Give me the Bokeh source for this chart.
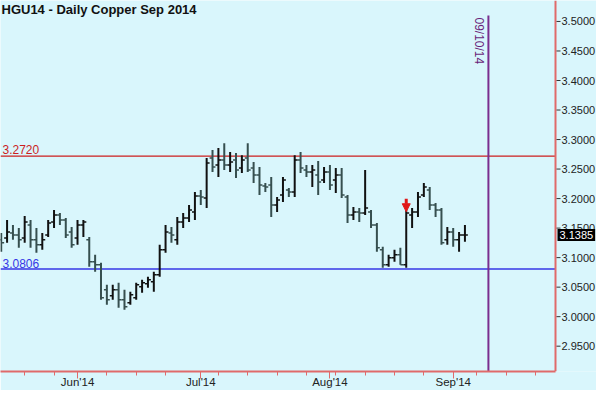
import math
import pandas as pd
from bokeh.plotting import figure
from bokeh.core.properties import value
from bokeh.models import (Range1d, FixedTicker, Label, Arrow, NormalHead, ColumnDataSource)
from bokeh.embed import file_html
from bokeh.resources import INLINE

# ---------------- data ----------------
START = "2014-05-13"
CAL_END = "2014-09-30"
HOLIDAYS = ["2014-05-26", "2014-07-04", "2014-09-01"]

OPEN = [3.1301, 3.1334, 3.1419, 3.1385, 3.1334, 3.1554, 3.1301, 3.1216, 3.1385, 3.1605,
        3.1723, 3.1639, 3.1436, 3.1334, 3.1554, 3.1301, 3.0929, 3.0878, 3.0456, 3.0355,
        3.0456, 3.0287, 3.0237, 3.0321, 3.0507, 3.0557, 3.0591, 3.0709, 3.1132, 3.1419,
        3.1301, 3.1605, 3.1672, 3.1774, 3.2044, 3.2010, 3.2686, 3.2568, 3.2652, 3.2568,
        3.2652, 3.2517, 3.2686, 3.2517, 3.2399, 3.2213, 3.2230, 3.1892, 3.2061, 3.2145,
        3.2111, 3.2652, 3.2483, 3.2449, 3.2399, 3.2314, 3.2449, 3.2314, 3.2399, 3.2027,
        3.1723, 3.1774, 3.1757, 3.1774, 3.1554, 3.1132, 3.0878, 3.0997, 3.1047, 3.0878,
        3.1723, 3.1774, 3.2061, 3.2145, 3.1892, 3.1807, 3.1301, 3.1436, 3.1301, 3.1385]
HIGH = [3.1419, 3.1639, 3.1554, 3.1503, 3.1706, 3.1639, 3.1503, 3.1419, 3.1639, 3.1807,
        3.1757, 3.1672, 3.1520, 3.1639, 3.1639, 3.1351, 3.1047, 3.0912, 3.0541, 3.0541,
        3.0574, 3.0456, 3.0422, 3.0574, 3.0625, 3.0676, 3.0760, 3.1216, 3.1554, 3.1520,
        3.1689, 3.1757, 3.1892, 3.2111, 3.2145, 3.2686, 3.2821, 3.2855, 3.2939, 3.2787,
        3.2770, 3.2736, 3.2939, 3.2618, 3.2534, 3.2264, 3.2365, 3.2027, 3.2365, 3.2179,
        3.2736, 3.2787, 3.2568, 3.2568, 3.2635, 3.2534, 3.2568, 3.2517, 3.2517, 3.2061,
        3.1858, 3.1841, 3.2483, 3.1807, 3.1588, 3.1183, 3.1047, 3.1132, 3.1166, 3.1807,
        3.1841, 3.2111, 3.2264, 3.2196, 3.1926, 3.1841, 3.1520, 3.1503, 3.1436, 3.1554]
LOW = [3.1098, 3.1250, 3.1301, 3.1166, 3.1250, 3.1166, 3.1081, 3.1132, 3.1351, 3.1503,
       3.1554, 3.1334, 3.1166, 3.1216, 3.1351, 3.0845, 3.0760, 3.0287, 3.0203, 3.0287,
       3.0152, 3.0118, 3.0203, 3.0287, 3.0405, 3.0490, 3.0422, 3.0676, 3.1081, 3.1250,
       3.1216, 3.1503, 3.1605, 3.1639, 3.1892, 3.1841, 3.2449, 3.2365, 3.2483, 3.2449,
       3.2348, 3.2432, 3.2449, 3.2264, 3.2061, 3.2111, 3.1689, 3.1774, 3.1942, 3.2027,
       3.2027, 3.2432, 3.2365, 3.2196, 3.2061, 3.2264, 3.2145, 3.2095, 3.2010, 3.1588,
       3.1639, 3.1605, 3.1723, 3.1503, 3.1098, 3.0828, 3.0845, 3.0929, 3.0878, 3.0828,
       3.1503, 3.1689, 3.2027, 3.1807, 3.1689, 3.1216, 3.1216, 3.1183, 3.1098, 3.1267]
CLOSE = [3.1250, 3.1436, 3.1385, 3.1301, 3.1605, 3.1301, 3.1216, 3.1301, 3.1588, 3.1723,
         3.1639, 3.1385, 3.1216, 3.1554, 3.1605, 3.0929, 3.0878, 3.0321, 3.0287, 3.0456,
         3.0287, 3.0169, 3.0372, 3.0541, 3.0574, 3.0625, 3.0709, 3.1132, 3.1436, 3.1385,
         3.1605, 3.1672, 3.1807, 3.2044, 3.2027, 3.2601, 3.2534, 3.2652, 3.2568, 3.2618,
         3.2483, 3.2652, 3.2483, 3.2399, 3.2230, 3.2196, 3.1892, 3.1976, 3.2314, 3.2111,
         3.2652, 3.2517, 3.2449, 3.2483, 3.2280, 3.2449, 3.2230, 3.2399, 3.2061, 3.1723,
         3.1774, 3.1757, 3.1841, 3.1554, 3.1166, 3.0878, 3.0997, 3.1047, 3.0878, 3.1757,
         3.1774, 3.2027, 3.2196, 3.1892, 3.1807, 3.1250, 3.1436, 3.1301, 3.1385, 3.1385]

MONTH_TICKS = ["2014-06-02", "2014-07-01", "2014-08-01", "2014-09-02"]
MONTH_LABELS = ["Jun'14", "Jul'14", "Aug'14", "Sep'14"]
WEEK_TICKS = ["2014-05-19", "2014-05-27", "2014-06-09", "2014-06-16", "2014-06-23",
              "2014-07-07", "2014-07-14", "2014-07-21", "2014-07-28", "2014-08-04",
              "2014-08-11", "2014-08-18", "2014-08-25", "2014-09-08", "2014-09-15",
              "2014-09-22"]
PRICE_TICKS = [2.95, 3.00, 3.05, 3.10, 3.15, 3.20, 3.25, 3.30, 3.35, 3.40, 3.45, 3.50]
PRICE_LABELS = ["2.9500", "3.0000", "3.0500", "3.1000", "3.1500", "3.2000",
                "3.2500", "3.3000", "3.3500", "3.4000", "3.4500", "3.5000"]

RESISTANCE = 3.2720
SUPPORT = 3.0806
MARK_DATE = "2014-09-10"
MARK_TEXT = "09/10/14"
SIGNAL_DATE = "2014-08-20"
TITLE = "HGU14 - Daily  Copper Sep 2014"

# ---------------- calendar ----------------
cal = [d for d in pd.bdate_range(START, CAL_END) if d.strftime("%Y-%m-%d") not in HOLIDAYS]
pos = {d.strftime("%Y-%m-%d"): i for i, d in enumerate(cal)}
xs = list(range(len(OPEN)))

# ---------------- styling / layout ----------------
BG = "#D9F6FC"
AXIS_C = "#E06A6A"
FONT = "Liberation Sans"
UP_C = "#111111"
DN_C = "#364F4F"
W, H = 596, 390
PX_DAY = 5.87          # px per trading day
PX_UNIT = 592.0        # px per price unit
FRAME_H = 372
AXIS_PX = 555          # price axis position from the left edge, px
X_START = -0.12
X_END = X_START + W / PX_DAY
X_AXIS = X_START + AXIS_PX / PX_DAY
Y_END = 3.5355
Y_START = Y_END - FRAME_H / PX_UNIT

p = figure(width=W, height=H, output_backend="svg", toolbar_location=None,
           x_range=Range1d(X_START, X_END), y_range=Range1d(Y_START, Y_END),
           y_axis_location=None, background_fill_color=BG, border_fill_color=BG,
           min_border_left=0, min_border_top=0, min_border_right=0,
           min_border_bottom=H - FRAME_H)
p.outline_line_color = None
p.xgrid.visible = False
p.ygrid.visible = False

colors = [UP_C if c >= o else DN_C for o, c in zip(OPEN, CLOSE)]
src = ColumnDataSource(dict(x=xs, xl=[x - 0.5 for x in xs], xr=[x + 0.5 for x in xs],
                            o=OPEN, h=HIGH, l=LOW, c=CLOSE, col=colors))

# reference lines
p.segment(x0=X_START, x1=X_AXIS, y0=RESISTANCE, y1=RESISTANCE, line_color="#CC1E1E", line_width=1.2)
p.segment(x0=X_START, x1=X_AXIS, y0=SUPPORT, y1=SUPPORT, line_color="#3636E6", line_width=1.5)

mx = pos[MARK_DATE]
p.segment(x0=mx, x1=mx, y0=Y_START, y1=Y_END - 15 / PX_UNIT, line_color="#7A2E8E", line_width=2)

# OHLC bars
p.segment(x0="x", x1="x", y0="l", y1="h", line_color="col", line_width=2, source=src)
p.segment(x0="xl", x1="x", y0="o", y1="o", line_color="col", line_width=1.5, source=src)
p.segment(x0="x", x1="xr", y0="c", y1="c", line_color="col", line_width=1.5, source=src)

# signal arrow
si = pos[SIGNAL_DATE]
p.add_layout(Arrow(end=NormalHead(size=8, fill_color="#E01818", line_color="#E01818"),
                   x_start=si, y_start=HIGH[si] + 0.019, x_end=si, y_end=HIGH[si] - 0.003,
                   line_color="#E01818", line_width=3))

# price scale on the right (drawn on the same scales)
p.segment(x0=X_AXIS, x1=X_AXIS, y0=Y_START, y1=Y_END, line_color=AXIS_C, line_width=2)
tsrc = ColumnDataSource(dict(y=PRICE_TICKS, t=PRICE_LABELS,
                             x0=[X_AXIS + 1 / PX_DAY] * len(PRICE_TICKS),
                             x1=[X_AXIS + 5 / PX_DAY] * len(PRICE_TICKS),
                             xt=[X_AXIS] * len(PRICE_TICKS)))
p.segment(x0="x0", x1="x1", y0="y", y1="y", line_color="#333333", line_width=1, source=tsrc)
p.text(x="xt", y="y", text="t", x_offset=6, text_align="left", text_baseline="middle",
       text_font=value(FONT), text_font_size="11px", text_color="#222222", source=tsrc)

# labels
p.add_layout(Label(x=X_START, y=Y_END, x_offset=1, y_offset=-1, text=TITLE,
                   text_align="left", text_baseline="top", text_font=FONT,
                   text_font_size="13px", text_font_style="bold", text_color="#111111"))
p.add_layout(Label(x=X_START, y=RESISTANCE, x_offset=2, y_offset=2, text=f"{RESISTANCE:.4f}",
                   text_align="left", text_baseline="bottom", text_font=FONT,
                   text_font_size="12px", text_color="#CC1E1E"))
p.add_layout(Label(x=X_START, y=SUPPORT, x_offset=2, y_offset=1, text=f"{SUPPORT:.4f}",
                   text_align="left", text_baseline="bottom", text_font=FONT,
                   text_font_size="12px", text_color="#3636E6"))
p.add_layout(Label(x=mx, y=Y_END, x_offset=-2, y_offset=-17, text=MARK_TEXT, angle=-math.pi / 2,
                   text_align="left", text_baseline="top", text_font=FONT,
                   text_font_size="12px", text_color="#6A1F7A"))
# last-price tag over the price scale
p.add_layout(Label(x=X_AXIS, y=CLOSE[-1], x_offset=2, text=f"{CLOSE[-1]:.4f}",
                   text_align="left", text_baseline="middle", text_font=FONT,
                   text_font_size="11px", text_color="white",
                   background_fill_color="black", padding=2))

# time axis
xa = p.xaxis[0]
month_x = [pos[d] for d in MONTH_TICKS]
week_x = [pos[d] for d in WEEK_TICKS]
xa.ticker = FixedTicker(ticks=month_x, minor_ticks=week_x)
xa.major_label_overrides = {float(x): lab for x, lab in zip(month_x, MONTH_LABELS)}
xa.bounds = (X_START, X_AXIS)
xa.axis_line_color = AXIS_C
xa.axis_line_width = 2
xa.major_tick_in = 0
xa.major_tick_out = 7
xa.minor_tick_in = 0
xa.minor_tick_out = 4
xa.major_tick_line_color = AXIS_C
xa.minor_tick_line_color = AXIS_C
xa.major_label_standoff = -3
xa.major_label_text_font = FONT
xa.major_label_text_font_size = "11.5px"
xa.major_label_text_color = "#222222"

open("out.html", "w").write(file_html(p, INLINE))
